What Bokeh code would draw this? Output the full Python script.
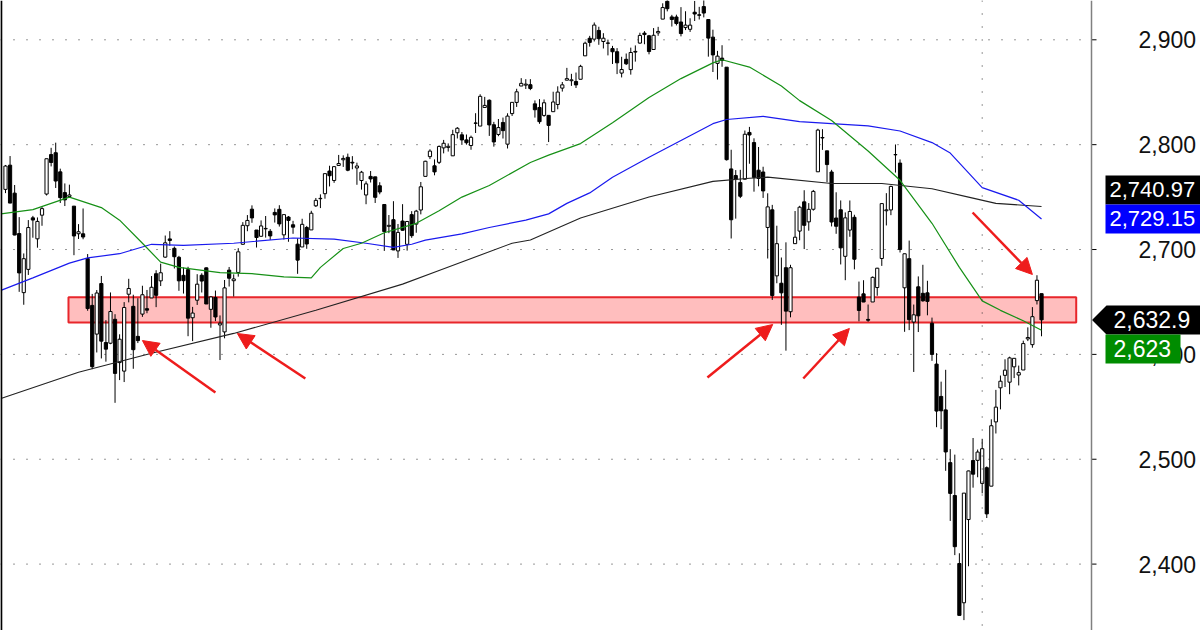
import numpy as np
from bokeh.plotting import figure
from bokeh.models import Range1d, Span, Arrow, NormalHead
from bokeh.core.properties import value
from bokeh.embed import file_html
from bokeh.resources import INLINE

# ---------------- data: S&P 500 daily candles (Feb 26 2018 - Jan 22 2019) ----------------
trading_days = {
    "2018-02": [26, 27, 28],
    "2018-03": [1, 2, 5, 6, 7, 8, 9, 12, 13, 14, 15, 16, 19, 20, 21, 22, 23, 26, 27, 28, 29],
    "2018-04": [2, 3, 4, 5, 6, 9, 10, 11, 12, 13, 16, 17, 18, 19, 20, 23, 24, 25, 26, 27, 30],
    "2018-05": [1, 2, 3, 4, 7, 8, 9, 10, 11, 14, 15, 16, 17, 18, 21, 22, 23, 24, 25, 29, 30, 31],
    "2018-06": [1, 4, 5, 6, 7, 8, 11, 12, 13, 14, 15, 18, 19, 20, 21, 22, 25, 26, 27, 28, 29],
    "2018-07": [2, 3, 5, 6, 9, 10, 11, 12, 13, 16, 17, 18, 19, 20, 23, 24, 25, 26, 27, 30, 31],
    "2018-08": [1, 2, 3, 6, 7, 8, 9, 10, 13, 14, 15, 16, 17, 20, 21, 22, 23, 24, 27, 28, 29, 30, 31],
    "2018-09": [4, 5, 6, 7, 10, 11, 12, 13, 14, 17, 18, 19, 20, 21, 24, 25, 26, 27, 28],
    "2018-10": [1, 2, 3, 4, 5, 8, 9, 10, 11, 12, 15, 16, 17, 18, 19, 22, 23, 24, 25, 26, 29, 30, 31],
    "2018-11": [1, 2, 5, 6, 7, 8, 9, 12, 13, 14, 15, 16, 19, 20, 21, 23, 26, 27, 28, 29, 30],
    "2018-12": [3, 4, 6, 7, 10, 11, 12, 13, 14, 17, 18, 19, 20, 21, 24, 26, 27, 28, 31],
    "2019-01": [2, 3, 4, 7, 8, 9, 10, 11, 14, 15, 16, 17, 18, 22],
}
dates = [f"{m}-{d:02d}" for m, ds in trading_days.items() for d in ds]

opens = [
    2757.37, 2780.45, 2753.78,
    2715.22, 2658.89, 2681.06, 2730.18, 2710.18, 2732.75, 2752.91, 2790.54, 2792.31, 2774.06, 2754.27, 2750.57, 2741.38, 2715.05, 2714.99, 2691.36, 2646.71, 2619.35, 2667.57, 2611.30, 2610.64,
    2633.45, 2592.17, 2584.04, 2657.36, 2645.82, 2617.18, 2638.41, 2643.57, 2653.83, 2676.90, 2670.10, 2692.74, 2710.11, 2701.16, 2692.56, 2675.40, 2680.80, 2634.92, 2651.65, 2675.47, 2682.51,
    2642.96, 2654.24, 2628.08, 2621.45, 2680.34, 2670.26, 2678.12, 2705.02, 2722.70, 2738.47, 2718.59, 2712.62, 2719.71, 2717.35, 2735.39, 2738.34, 2713.98, 2730.94, 2723.60, 2705.11, 2702.43, 2720.98,
    2718.70, 2741.67, 2748.46, 2753.25, 2774.84, 2765.84, 2780.18, 2785.60, 2787.94, 2783.21, 2777.78, 2765.79, 2752.01, 2769.73, 2769.28, 2760.79, 2742.94, 2722.12, 2728.45, 2698.69, 2727.13,
    2704.95, 2733.27, 2724.19, 2737.68, 2769.76, 2788.56, 2779.82, 2783.14, 2796.93, 2797.36, 2789.34, 2811.35, 2809.37, 2804.55, 2799.17, 2820.68, 2817.73, 2835.49, 2842.35, 2819.00, 2809.73,
    2821.17, 2800.48, 2829.62, 2840.29, 2855.92, 2856.79, 2857.19, 2838.90, 2835.46, 2827.88, 2827.95, 2831.44, 2838.32, 2853.93, 2861.51, 2860.99, 2860.29, 2862.35, 2884.69, 2901.45, 2900.62, 2908.94, 2898.37,
    2896.96, 2891.59, 2888.64, 2868.26, 2881.39, 2871.57, 2888.29, 2896.85, 2906.38, 2903.83, 2890.74, 2906.60, 2919.73, 2936.76, 2921.83, 2921.75, 2916.98, 2911.65, 2910.03,
    2926.29, 2923.80, 2931.69, 2919.35, 2902.54, 2877.53, 2882.51, 2873.90, 2776.87, 2770.54, 2763.83, 2767.05, 2811.67, 2802.00, 2775.66, 2773.94, 2721.03, 2737.87, 2674.88, 2667.86, 2682.65, 2640.68, 2705.60,
    2717.58, 2745.45, 2726.37, 2738.40, 2774.13, 2806.38, 2794.10, 2773.93, 2730.05, 2737.90, 2693.52, 2718.54, 2730.74, 2654.60, 2657.74, 2633.36, 2649.97, 2663.75, 2691.45, 2736.97, 2737.76,
    2790.50, 2782.43, 2663.51, 2691.26, 2630.86, 2664.44, 2658.23, 2658.70, 2629.68, 2590.75, 2559.90, 2547.05, 2496.77, 2465.38, 2400.56, 2363.12, 2442.50, 2498.77, 2498.94,
    2476.96, 2491.92, 2474.33, 2535.61, 2568.11, 2580.00, 2573.51, 2588.11, 2580.31, 2585.10, 2614.75, 2609.28, 2651.27, 2657.88,
]
highs = [
    2780.64, 2789.15, 2761.52,
    2730.89, 2696.25, 2728.09, 2732.08, 2730.60, 2740.45, 2786.57, 2796.98, 2801.90, 2777.11, 2763.03, 2761.85, 2741.38, 2724.22, 2739.14, 2695.68, 2657.67, 2661.36, 2674.78, 2632.65, 2659.07,
    2638.30, 2619.14, 2649.86, 2672.08, 2656.88, 2653.55, 2665.45, 2661.43, 2674.72, 2680.26, 2686.49, 2713.34, 2717.49, 2702.84, 2693.94, 2682.86, 2683.55, 2645.30, 2676.48, 2677.35, 2682.87,
    2655.27, 2660.87, 2637.14, 2670.93, 2683.35, 2676.34, 2701.27, 2726.11, 2732.86, 2742.10, 2718.59, 2727.76, 2731.96, 2719.50, 2739.19, 2742.24, 2733.33, 2731.97, 2727.36, 2710.67, 2729.34, 2722.50,
    2736.93, 2749.16, 2752.61, 2772.39, 2779.90, 2779.39, 2790.21, 2789.80, 2791.47, 2789.06, 2782.81, 2774.99, 2765.05, 2774.86, 2769.28, 2764.17, 2742.94, 2732.91, 2746.09, 2724.34, 2743.26,
    2727.26, 2736.58, 2737.83, 2764.41, 2784.65, 2795.58, 2785.91, 2799.22, 2804.53, 2801.19, 2814.19, 2816.76, 2812.05, 2809.70, 2808.61, 2829.99, 2848.03, 2845.57, 2843.17, 2821.74, 2824.46,
    2825.83, 2829.91, 2840.38, 2853.29, 2863.43, 2862.44, 2862.48, 2842.20, 2843.40, 2843.11, 2827.95, 2850.49, 2855.63, 2859.76, 2873.23, 2867.54, 2868.78, 2876.16, 2898.25, 2903.77, 2916.50, 2912.46, 2906.32,
    2900.18, 2894.21, 2892.05, 2883.81, 2886.93, 2892.52, 2894.65, 2906.76, 2908.30, 2904.65, 2911.17, 2912.36, 2934.80, 2940.91, 2923.79, 2923.95, 2931.15, 2927.22, 2920.53,
    2937.06, 2931.42, 2939.86, 2919.78, 2909.64, 2889.45, 2894.83, 2874.02, 2795.14, 2775.77, 2775.99, 2813.46, 2816.94, 2806.04, 2797.77, 2778.94, 2753.59, 2742.59, 2722.70, 2692.38, 2706.85, 2685.43, 2736.69,
    2741.67, 2756.55, 2744.27, 2756.82, 2815.15, 2814.75, 2794.10, 2775.99, 2754.60, 2746.80, 2735.38, 2746.75, 2733.16, 2669.44, 2670.73, 2647.55, 2674.35, 2682.53, 2744.00, 2753.75, 2760.88,
    2800.18, 2785.93, 2696.15, 2708.54, 2647.51, 2674.35, 2685.44, 2670.19, 2635.07, 2601.13, 2573.99, 2585.29, 2509.63, 2504.41, 2410.34, 2467.76, 2489.10, 2520.27, 2509.24,
    2519.49, 2493.14, 2538.07, 2566.16, 2579.82, 2595.32, 2597.82, 2596.27, 2589.32, 2613.08, 2625.76, 2645.06, 2675.47, 2657.88,
]
lows = [
    2753.78, 2744.22, 2713.54,
    2659.65, 2647.32, 2675.75, 2711.26, 2701.74, 2722.65, 2751.54, 2779.26, 2758.68, 2744.38, 2741.47, 2749.97, 2694.59, 2710.05, 2709.79, 2641.59, 2585.89, 2601.81, 2596.12, 2593.06, 2609.72,
    2553.80, 2575.49, 2573.61, 2649.58, 2586.27, 2610.79, 2635.78, 2639.25, 2653.83, 2645.05, 2665.16, 2692.05, 2703.63, 2681.90, 2660.61, 2657.99, 2617.32, 2612.67, 2647.16, 2659.01, 2648.04,
    2625.41, 2631.70, 2594.62, 2615.32, 2664.70, 2655.20, 2674.14, 2704.54, 2717.45, 2725.47, 2701.91, 2712.17, 2711.36, 2709.18, 2725.70, 2721.88, 2709.54, 2707.38, 2714.99, 2676.81, 2702.43, 2700.68,
    2718.70, 2740.54, 2739.51, 2748.46, 2760.16, 2763.59, 2780.17, 2778.78, 2774.65, 2776.52, 2761.73, 2757.12, 2743.19, 2763.91, 2744.39, 2752.68, 2698.67, 2715.60, 2699.38, 2691.99, 2718.03,
    2698.95, 2711.16, 2716.02, 2733.52, 2769.76, 2786.24, 2770.77, 2781.53, 2791.69, 2793.39, 2789.24, 2805.89, 2799.77, 2800.01, 2795.14, 2811.12, 2817.73, 2835.26, 2808.34, 2798.11, 2808.06,
    2805.85, 2796.34, 2827.37, 2835.98, 2855.92, 2853.09, 2851.98, 2825.81, 2819.88, 2826.58, 2802.49, 2831.44, 2833.73, 2850.62, 2861.32, 2856.05, 2854.03, 2862.35, 2884.69, 2893.50, 2898.40, 2895.22, 2891.73,
    2885.13, 2876.92, 2867.29, 2864.12, 2875.94, 2866.78, 2879.20, 2896.39, 2895.77, 2886.16, 2890.43, 2903.82, 2919.73, 2927.11, 2912.63, 2913.70, 2903.28, 2909.27, 2907.50,
    2917.91, 2919.37, 2921.36, 2883.92, 2869.29, 2862.08, 2874.27, 2784.86, 2710.51, 2729.44, 2749.03, 2766.91, 2781.81, 2755.18, 2760.27, 2749.22, 2691.43, 2651.89, 2667.84, 2628.16, 2603.54, 2635.34, 2705.60,
    2708.85, 2700.44, 2717.94, 2737.08, 2774.13, 2794.99, 2764.24, 2722.00, 2714.98, 2685.75, 2670.75, 2712.16, 2681.09, 2631.52, 2649.82, 2631.09, 2649.97, 2655.89, 2684.38, 2722.94, 2732.76,
    2773.38, 2697.18, 2621.53, 2623.14, 2583.23, 2621.30, 2650.26, 2637.27, 2593.84, 2530.54, 2528.71, 2488.96, 2441.18, 2408.55, 2351.10, 2346.58, 2397.94, 2472.89, 2482.82,
    2467.47, 2443.96, 2474.33, 2524.56, 2547.56, 2568.89, 2562.02, 2577.40, 2570.41, 2585.10, 2612.68, 2606.36, 2647.58, 2617.27,
]
closes = [
    2779.60, 2744.28, 2713.83,
    2677.67, 2691.25, 2720.94, 2728.12, 2726.80, 2738.97, 2786.57, 2783.02, 2765.31, 2749.48, 2747.33, 2752.01, 2712.92, 2716.94, 2711.93, 2643.69, 2588.26, 2658.55, 2612.62, 2605.00, 2640.87,
    2581.88, 2614.45, 2644.69, 2662.84, 2604.47, 2613.16, 2656.87, 2642.19, 2663.99, 2656.30, 2677.84, 2706.39, 2708.64, 2693.13, 2670.14, 2670.29, 2634.56, 2639.40, 2666.94, 2669.91, 2648.05,
    2654.80, 2635.67, 2629.73, 2663.42, 2672.63, 2671.92, 2697.79, 2723.07, 2727.72, 2730.13, 2711.45, 2722.46, 2720.13, 2712.97, 2733.01, 2724.44, 2733.29, 2727.76, 2721.33, 2689.86, 2724.01, 2705.27,
    2734.62, 2746.87, 2748.80, 2772.35, 2770.37, 2779.03, 2782.00, 2786.85, 2775.63, 2782.49, 2779.66, 2773.75, 2762.59, 2767.32, 2749.76, 2754.88, 2717.07, 2723.06, 2699.63, 2716.31, 2718.37,
    2726.71, 2713.22, 2736.61, 2759.82, 2784.17, 2793.84, 2774.02, 2798.29, 2801.31, 2798.43, 2809.55, 2815.62, 2804.49, 2801.83, 2806.98, 2820.40, 2846.07, 2837.44, 2818.82, 2802.60, 2816.29,
    2813.36, 2827.22, 2840.35, 2850.40, 2858.45, 2857.70, 2853.58, 2833.28, 2821.93, 2839.96, 2818.37, 2840.69, 2850.13, 2857.05, 2862.96, 2861.82, 2856.98, 2874.69, 2896.74, 2897.52, 2914.04, 2901.13, 2901.52,
    2896.72, 2888.60, 2878.05, 2871.68, 2877.13, 2887.89, 2888.92, 2904.18, 2904.98, 2888.80, 2904.31, 2907.95, 2930.75, 2929.67, 2919.37, 2915.56, 2905.97, 2914.00, 2913.98,
    2924.59, 2923.43, 2925.51, 2901.61, 2885.57, 2884.43, 2880.34, 2785.68, 2728.37, 2767.13, 2750.79, 2809.92, 2809.21, 2768.78, 2767.78, 2755.88, 2740.69, 2656.10, 2705.57, 2658.69, 2641.25, 2682.63, 2711.74,
    2740.37, 2723.06, 2738.31, 2755.45, 2813.89, 2806.83, 2781.01, 2726.22, 2722.18, 2701.58, 2730.20, 2736.27, 2690.73, 2641.89, 2649.93, 2632.56, 2673.45, 2682.17, 2743.79, 2737.80, 2760.17,
    2790.37, 2700.06, 2695.95, 2633.08, 2637.72, 2636.78, 2651.07, 2650.54, 2599.95, 2545.94, 2546.16, 2506.96, 2467.42, 2416.62, 2351.10, 2467.70, 2488.83, 2485.74, 2506.85,
    2510.03, 2447.89, 2531.94, 2549.69, 2574.41, 2584.96, 2596.64, 2596.26, 2582.61, 2610.30, 2616.10, 2635.96, 2670.71, 2632.90,
]

# moving averages (bar index, value)
ma50_x = [-1, 6, 14, 21, 25, 30, 34, 38, 47, 54, 61, 67, 69, 74, 78, 83, 90, 95, 100, 106, 115, 119, 126, 133, 141, 148, 155, 157, 163, 170, 174, 181, 189, 196, 203, 209, 214, 218, 223, 227]
ma50_y = [2734, 2738, 2750, 2740, 2728, 2706, 2688, 2683, 2678, 2677, 2674, 2673, 2683, 2701, 2706, 2716, 2725, 2737, 2750, 2761, 2783, 2790, 2801, 2821, 2845, 2863, 2878, 2881, 2874, 2856, 2842, 2823, 2794, 2766, 2725, 2683, 2651, 2642, 2632, 2623]
ma100_x = [-1, 6, 14, 18, 25, 32, 39, 50, 63, 72, 79, 85, 89, 92, 100, 106, 114, 119, 123, 128, 133, 141, 148, 155, 158, 166, 174, 181, 189, 196, 203, 207, 214, 222, 227]
ma100_y = [2661, 2673, 2687, 2692, 2696, 2705, 2704, 2706, 2711, 2710, 2706, 2702, 2705, 2709, 2715, 2721, 2728, 2734, 2744, 2754, 2769, 2788, 2804, 2820, 2824, 2827, 2822, 2820, 2818, 2813, 2802, 2792, 2759, 2747, 2729.15]
ma200_x = [-1, 16, 32, 50, 68, 87, 95, 111, 115, 126, 141, 155, 163, 167, 181, 192, 203, 211, 217, 227]
ma200_y = [2558, 2583, 2601, 2620, 2642, 2667, 2680, 2706, 2709, 2730, 2750, 2765, 2768, 2769, 2763, 2763, 2758, 2750, 2744, 2740.97]

# highlighted support zone
zone_first_bar, zone_last_bar = 13.8, 234.6
zone_low, zone_high = 2630.5, 2654.5

# red arrows (bar index / price of tail and tip)
arrow_tail_x = [46.0, 65.7, 153.8, 174.8, 211.9]
arrow_tail_y = [2563.7, 2577.0, 2577.9, 2577.0, 2735.3]
arrow_tip_x = [30.0, 50.8, 168.1, 184.9, 225.0]
arrow_tip_y = [2613.2, 2619.9, 2628.5, 2624.7, 2676.2]

# last-value tags on the price scale
tag_values = [2740.97, 2729.15, 2632.9, 2623.0]
tag_texts = ["2,740.97", "2,729.15", "2,632.9", "2,623"]
tag_colors = ["#000000", "#0000ff", "#000000", "#008c00"]

y_ticks = [2400, 2500, 2600, 2700, 2800, 2900]
y_tick_labels = [f"{t:,}" for t in y_ticks]
year_break = dates.index("2019-01-02")

# ---------------- layout (pixel scale of the chart) ----------------
W, H = 1200, 630
PX_PER_BAR = 4.564
PX_PER_PT = 1.0486
x0 = -5 / PX_PER_BAR
x1 = x0 + W / PX_PER_BAR
y1 = 2900 + 39.3 / PX_PER_PT
y0 = y1 - H / PX_PER_PT


def bx(px):
    """horizontal pixel position -> bar units"""
    return x0 + px / PX_PER_BAR


axis_x = bx(1091)

p = figure(width=W, height=H, output_backend="svg", toolbar_location=None,
           x_axis_location=None, y_axis_location=None,
           x_range=Range1d(x0, x1), y_range=Range1d(y0, y1),
           min_border_left=0, min_border_top=0, min_border_bottom=0, min_border_right=0)
p.outline_line_color = None
p.background_fill_color = "white"
p.border_fill_color = "white"
p.xgrid.visible = False
p.ygrid.visible = False

# dotted grid lines up to the price scale
p.segment(x0=[x0] * len(y_ticks), y0=y_ticks, x1=[axis_x] * len(y_ticks), y1=y_ticks,
          line_color="#303030", line_dash="1 12", line_width=1)
p.add_layout(Span(location=year_break, dimension="height", line_color="#303030",
                  line_dash="1 12", line_width=1))
# left border of the chart
p.add_layout(Span(location=bx(0.8), dimension="height", line_color="#000000", line_width=2))

# zone
p.quad(left=[zone_first_bar], right=[zone_last_bar], bottom=[zone_low], top=[zone_high],
       fill_color="#ffbebe", line_color="#e8262b", line_width=2)

# candles
o = np.array(opens); h = np.array(highs); l = np.array(lows); c = np.array(closes)
xs = np.arange(len(c))
up = c >= o
p.segment(x0=xs, y0=l, x1=xs, y1=h, line_color="black", line_width=1)
p.vbar(x=xs[up], top=c[up], bottom=o[up], width=0.7, fill_color="white",
       line_color="black", line_width=1)
p.vbar(x=xs[~up], top=o[~up], bottom=c[~up], width=0.7, fill_color="black",
       line_color="black", line_width=1)

# moving averages
p.line(ma200_x, ma200_y, line_color="#222222", line_width=1.1)
p.line(ma100_x, ma100_y, line_color="#1a1aee", line_width=1.2)
p.line(ma50_x, ma50_y, line_color="#169016", line_width=1.2)

# arrows
for xt, yt, xh, yh in zip(arrow_tail_x, arrow_tail_y, arrow_tip_x, arrow_tip_y):
    p.add_layout(Arrow(end=NormalHead(size=16, fill_color="#ee1c1c", line_color="#ee1c1c"),
                       x_start=xt, y_start=yt, x_end=xh, y_end=yh,
                       line_color="#ee1c1c", line_width=2.5))

# price scale: axis line, ticks, labels
p.add_layout(Span(location=axis_x, dimension="height", line_color="#808080", line_width=1.5))
p.segment(x0=[axis_x] * len(y_ticks), y0=y_ticks, x1=[bx(1096)] * len(y_ticks), y1=y_ticks,
          line_color="#000000", line_width=1)
p.text(x=[bx(1138)] * len(y_ticks), y=y_ticks, text=y_tick_labels,
       text_font=value("Liberation Sans"), text_font_size="23px", text_color="#111111",
       text_baseline="middle", text_align="left")

# value tags at the price scale
tag_h = 29 / PX_PER_PT
centers = [tag_values[1] + tag_h, tag_values[1], tag_values[2], tag_values[2] - tag_h]
box_right = [bx(1210), bx(1210), bx(1210), bx(1180)]
for k, (cy, col) in enumerate(zip(centers, tag_colors)):
    top, bot = cy + tag_h / 2, cy - tag_h / 2
    if k == 2:
        px_ = [bx(1091.5), bx(1106), box_right[k], box_right[k], bx(1106)]
        py_ = [cy, top, top, bot, bot]
    else:
        px_ = [bx(1105), box_right[k], box_right[k], bx(1105)]
        py_ = [top, top, bot, bot]
    p.patch(px_, py_, fill_color=col, line_color=None)
# the two long tags are set a touch smaller so that they stay inside the page
p.text(x=[bx(1109)] * 2, y=centers[:2], text=tag_texts[:2],
       text_font=value("Liberation Sans"), text_font_size="22px", text_color="white",
       text_baseline="middle", text_align="left")
p.text(x=[bx(1113)] * 2, y=centers[2:], text=tag_texts[2:],
       text_font=value("Liberation Sans"), text_font_size="23px", text_color="white",
       text_baseline="middle", text_align="left")

open("out.html", "w").write(file_html(p, INLINE))
